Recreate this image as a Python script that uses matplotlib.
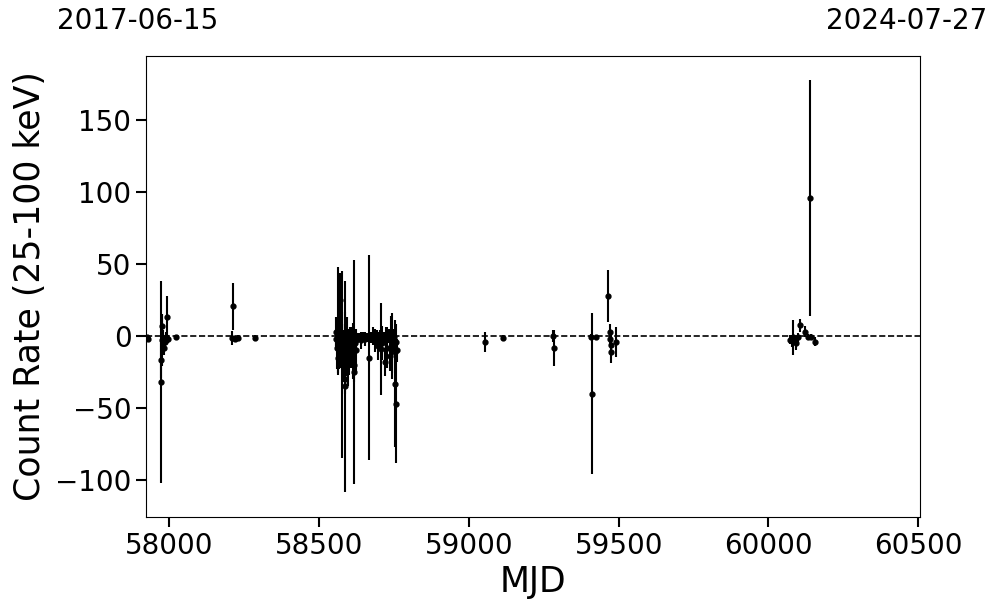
import numpy as np
import matplotlib.pyplot as plt

# (MJD, count rate, error), grouped by observing campaign
mjd_a = [57926, 57930, 57972, 57973, 57975, 57976, 57978, 57980, 57983, 57986, 57990, 57993, 57995, 58022]
rate_a = [-1, -2, -32, -17, -3, 7, -5, -2, -8, -4, -1, 13.5, -2, -1]
err_a = [1, 1.5, 70, 12, 18, 8, 4, 6, 5, 3, 4, 14, 3, 2]

mjd_b = [58210, 58212, 58219, 58229, 58286]
rate_b = [-1.5, 20.5, -2, -1.5, -1.5]
err_b = [5, 16, 2, 2, 2]

mjd_c = [58556, 58558, 58560, 58563, 58564, 58566, 58568, 58571, 58572, 58574,
         58578, 58576, 58579, 58587, 58582, 58585, 58586, 58588, 58590, 58592,
         58594, 58596, 58598, 58600, 58602, 58604, 58606, 58608, 58610, 58612,
         58614, 58618, 58616, 58620, 58622, 58624, 58628, 58634, 58640, 58646,
         58654, 58660, 58667, 58672, 58680, 58686, 58692, 58698, 58703, 58707,
         58711, 58716, 58720, 58724, 58728, 58732, 58736, 58740, 58744, 58747,
         58750, 58752, 58754, 58756, 58758, 58760]
rate_c = [-2, 3, -8, 11, -15, 5, -3, 25, -12, -5,
          -20, 2, -18, -35, -8, -30, -3, 0, -10, -6,
          3, -15, -2, -12, 1, -4, -8, -2, -6, 0,
          -14, -25, -20, -5, -10, -3, -2, -1, -3, 0,
          -2, -1, -15, -1, 0, -3, -1, -7, -2, -9,
          -5, -1, -18, -3, -8, 0, -14, 2, -7, -3,
          -1, -11, -33, -47, -4, -10]
err_c = [6, 10, 15, 37, 12, 8, 20, 19, 10, 15,
         65, 6, 14, 73, 12, 10, 20, 8, 18, 9,
         10, 20, 6, 15, 5, 8, 14, 5, 10, 9,
         16, 78, 12, 10, 15, 6, 4, 3, 6, 3,
         5, 3, 71, 4, 6, 8, 5, 10, 6, 32,
         12, 4, 10, 9, 14, 5, 10, 12, 23, 8,
         6, 15, 44, 41, 12, 8]

mjd_d = [59054, 59115, 59282, 59284, 59407, 59410, 59423, 59466, 59470, 59472, 59474, 59476, 59490]
rate_d = [-4, -1.5, 0, -8, -0.5, -40, -1, 28, 3, -2, -6, -11, -4]
err_d = [7, 2, 4, 12.5, 2, 56, 2, 18, 5, 5, 7, 8, 10.5]

mjd_e = [60072, 60080, 60083, 60092, 60100, 60106, 60122, 60131, 60138, 60141, 60156]
rate_e = [-2.5, -3.5, -1, -5, -1, 7.5, 3, -0.5, 96, -0.5, -4]
err_e = [3, 4, 12, 5, 3, 4.5, 4, 2, 82, 2, 3]

mjd = np.array(mjd_a + mjd_b + mjd_c + mjd_d + mjd_e)
rate = np.array(rate_a + rate_b + rate_c + rate_d + rate_e)
err = np.array(err_a + err_b + err_c + err_d + err_e)

start_label = '2017-06-15'
end_label = '2024-07-27'


def main():
    fig = plt.figure(figsize=(9.97, 6.13), dpi=100)
    ax = fig.add_axes([0.1464, 0.1566, 0.7764, 0.752])

    ax.errorbar(mjd, rate, yerr=err, fmt='o', color='black', ms=3.5,
                elinewidth=1.5, capsize=0)
    ax.axhline(0, color='black', ls='--', lw=1.2)

    ax.set_xlim(57922, 60506)
    ax.set_ylim(-125.7, 194.4)
    ax.set_xticks([58000, 58500, 59000, 59500, 60000, 60500])
    ax.set_yticks([-100, -50, 0, 50, 100, 150])
    ax.tick_params(labelsize=20, length=7, width=1.5)
    ax.set_xlabel('MJD', fontsize=25)
    ax.set_ylabel('Count Rate (25-100 keV)', fontsize=25, labelpad=6)

    fig.text(57 / 997, 0.966, start_label, fontsize=20, ha='left', va='center')
    fig.text(987 / 997, 0.966, end_label, fontsize=20, ha='right', va='center')

    fig.savefig('out.png', dpi=100)


if __name__ == "__main__":
    main()
